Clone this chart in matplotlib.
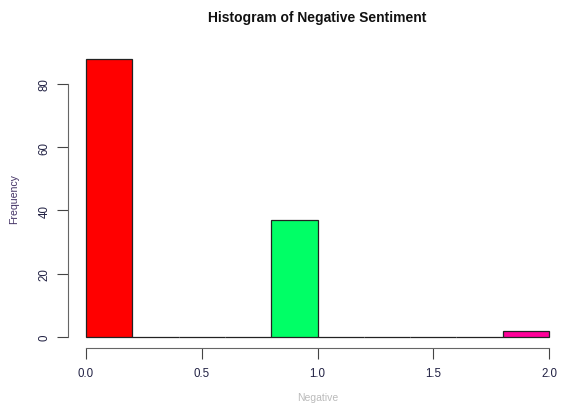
import matplotlib
matplotlib.use("Agg")
import matplotlib.pyplot as plt
import numpy as np

# histogram of negative sentiment scores, bins of width 0.2
bin_edges = [0.0, 0.2, 0.4, 0.6, 0.8, 1.0, 1.2, 1.4, 1.6, 1.8, 2.0]
counts = [88, 0, 0, 0, 37, 0, 0, 0, 0, 2]
# R rainbow(10)
bar_colors = ['#FF0000', '#FF9900', '#CCFF00', '#33FF00', '#00FF66',
              '#00FFFF', '#0066FF', '#3300FF', '#CC00FF', '#FF0099']
x_ticks = [0.0, 0.5, 1.0, 1.5, 2.0]
x_tick_labels = ['0.0', '0.5', '1.0', '1.5', '2.0']
y_ticks = [0, 20, 40, 60, 80]

plt.rcParams['font.family'] = ['Liberation Sans', 'DejaVu Sans']

W, H = 563, 406
fig = plt.figure(figsize=(W / 100, H / 100), dpi=100)

# plot region in pixels (R style, 4% padding on data range)
left, right, top, bottom = 67.5, 567.5, 48.6, 349.0
ax = fig.add_axes([left / W, 1 - bottom / H, (right - left) / W, (bottom - top) / H])

edges = np.array(bin_edges)
ax.bar(edges[:-1], counts, width=np.diff(edges), align='edge',
       color=bar_colors, edgecolor='#222222', linewidth=0.9)

ax.set_xlim(-0.08, 2.08)
ax.set_ylim(-88 * 0.04, 88 * 1.04)

for s in ['top', 'right']:
  ax.spines[s].set_visible(False)
ax.spines['left'].set_bounds(0, 80)
ax.spines['bottom'].set_bounds(0, 2)
for s in ['left', 'bottom']:
  ax.spines[s].set_color('#666666')
  ax.spines[s].set_linewidth(0.8)

ax.set_xticks(x_ticks)
ax.set_xticklabels(x_tick_labels)
ax.set_yticks(y_ticks)
ax.set_yticklabels([str(v) for v in y_ticks], rotation=90, va='center')
ax.tick_params(axis='both', length=8, width=0.8, color='#444444',
               labelsize=8.3, labelcolor='#222244')
ax.tick_params(axis='x', pad=6)
ax.tick_params(axis='y', pad=4)

ax.set_ylabel('Frequency', fontsize=7.6, color='#443366', labelpad=14)
ax.set_xlabel('Negative', fontsize=7.5, color='#bbbbbb', labelpad=9)
ax.set_title('Histogram of Negative Sentiment', fontsize=10, fontweight='bold',
             color='#111111', pad=19)

fig.savefig('out.png', dpi=100)
